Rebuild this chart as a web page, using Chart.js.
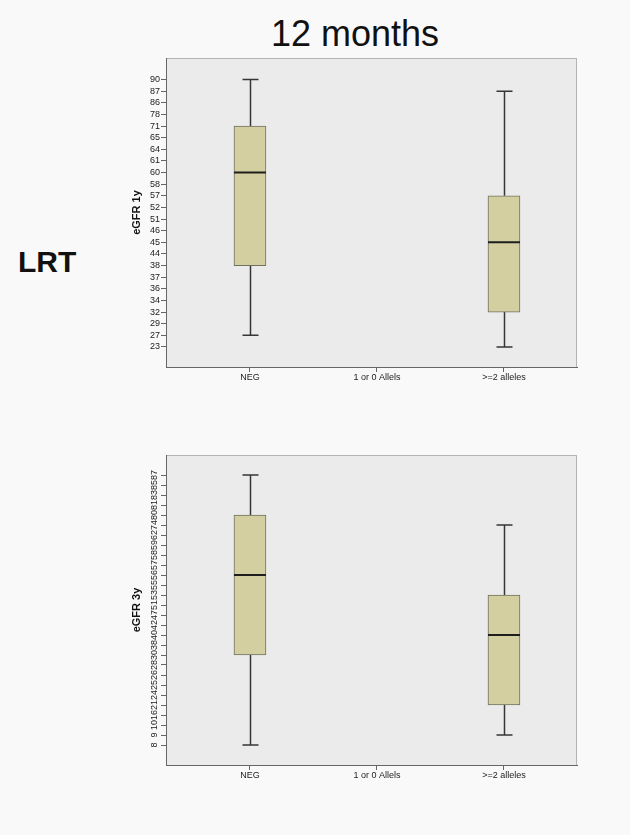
<!DOCTYPE html>
<html>
<head>
<meta charset="utf-8">
<script src="https://cdn.jsdelivr.net/npm/chart.js@4/dist/chart.umd.min.js"></script>
<style>
  html, body { margin: 0; padding: 0; background: #f9f9f9; }
  body { width: 630px; height: 835px; position: relative; overflow: hidden; font-family: "Liberation Sans", Arial, sans-serif; }
  #title { position: absolute; left: 0; width: 710px; top: 16px; text-align: center; font-size: 36px; line-height: 36px; color: #111; }
  #row { position: absolute; left: 18px; top: 247px; font-size: 30px; line-height: 30px; font-weight: bold; color: #111; }
  canvas { position: absolute; }
  #c1 { left: 110px; top: 50px; }
  #c2 { left: 110px; top: 445px; }
</style>
</head>
<body>
<div id="title">12 months</div>
<div id="row">LRT</div>
<canvas id="c1" width="490" height="340" style="width:490px;height:340px"></canvas>
<canvas id="c2" width="490" height="345" style="width:490px;height:345px"></canvas>
<script>
// Groups on the horizontal axis
const categories = ['NEG', '1 or 0 Allels', '>=2 alleles'];

// eGFR after 1 year: ordinal axis values (top to bottom) and box statistics
const eGFR1yTicks = [90, 87, 86, 78, 71, 65, 64, 61, 60, 58, 57, 52, 51, 46, 45, 44, 38, 37, 36, 34, 32, 29, 27, 23];
const eGFR1yMin    = [27, null, 23];
const eGFR1yQ1     = [38, null, 32];
const eGFR1yMedian = [60, null, 45];
const eGFR1yQ3     = [71, null, 57];
const eGFR1yMax    = [90, null, 87];

// eGFR after 3 years
const eGFR3yTicks = [87, 85, 83, 81, 80, 74, 62, 59, 58, 57, 56, 55, 53, 51, 47, 42, 40, 38, 30, 28, 26, 25, 24, 21, 16, 10, 9, 8];
const eGFR3yMin    = [8, null, 9];
const eGFR3yQ1     = [30, null, 21];
const eGFR3yMedian = [56, null, 40];
const eGFR3yQ3     = [80, null, 53];
const eGFR3yMax    = [87, null, 74];

const FONT = "'Liberation Sans', Arial, sans-serif";

// Position of a value on the ordinal axis (index into its tick list)
function rank(ticks, v) { return v == null ? null : ticks.indexOf(v); }

// Plot background, whiskers and medians
const boxPlot = {
  id: 'boxPlot',
  beforeDraw(chart) {
    const a = chart.chartArea, ctx = chart.ctx;
    ctx.save();
    ctx.fillStyle = '#ebebeb';
    ctx.fillRect(a.left, a.top, a.right - a.left, a.bottom - a.top);
    ctx.strokeStyle = '#b4b4b4';
    ctx.lineWidth = 1;
    ctx.strokeRect(a.left + 0.5, a.top + 0.5, a.right - a.left - 1, a.bottom - a.top);
    ctx.restore();
  },
  beforeDatasetsDraw(chart, args, opts) {
    const ctx = chart.ctx, xs = chart.scales.x, ys = chart.scales.y;
    ctx.save();
    ctx.strokeStyle = '#363636';
    ctx.lineWidth = 1.5;
    opts.min.forEach((mn, i) => {
      if (mn == null) return;
      const x = Math.round(xs.getPixelForValue(i)) + 0.5;
      const yMin = ys.getPixelForValue(mn), yMax = ys.getPixelForValue(opts.max[i]);
      const yQ1 = ys.getPixelForValue(opts.q1[i]), yQ3 = ys.getPixelForValue(opts.q3[i]);
      ctx.beginPath();
      ctx.moveTo(x, yMax); ctx.lineTo(x, yQ3);
      ctx.moveTo(x, yQ1); ctx.lineTo(x, yMin);
      ctx.moveTo(x - 8, yMax); ctx.lineTo(x + 8, yMax);
      ctx.moveTo(x - 8, yMin); ctx.lineTo(x + 8, yMin);
      ctx.stroke();
    });
    ctx.restore();
  },
  afterDatasetsDraw(chart, args, opts) {
    const ctx = chart.ctx, xs = chart.scales.x, ys = chart.scales.y;
    ctx.save();
    ctx.strokeStyle = '#1e1e1e';
    ctx.lineWidth = 2;
    opts.median.forEach((m, i) => {
      if (m == null) return;
      const x = xs.getPixelForValue(i);
      const y = ys.getPixelForValue(m);
      ctx.beginPath();
      ctx.moveTo(x - 16, y); ctx.lineTo(x + 16, y);
      ctx.stroke();
    });
    ctx.restore();
  }
};

function makeChart(id, ticks, stats, title, yMin, yMax, padTop, xHeight) {
  const pos = arr => arr.map(v => rank(ticks, v));
  const q1 = pos(stats.q1), q3 = pos(stats.q3);
  const boxes = categories.map((c, i) => q1[i] == null ? null : { x: i, y: [q1[i], q3[i]] }).filter(Boolean);
  const rotated = stats.rotate;
  return new Chart(document.getElementById(id), {
    type: 'bar',
    data: {
      datasets: [{
        data: boxes,
        backgroundColor: '#d3cfa0',
        borderColor: '#707062',
        borderWidth: 1,
        borderSkipped: false,
        barThickness: 32
      }]
    },
    options: {
      responsive: false,
      animation: false,
      devicePixelRatio: 1,
      layout: { padding: { top: padTop, right: 23, left: 0, bottom: 0 } },
      plugins: {
        legend: { display: false },
        tooltip: { enabled: false },
        boxPlot: { min: pos(stats.min), q1, median: pos(stats.median), q3, max: pos(stats.max) }
      },
      scales: {
        x: {
          type: 'linear',
          offset: false,
          min: -0.661, max: 2.575,
          afterBuildTicks: s => { s.ticks = categories.map((c, i) => ({ value: i })); },
          afterFit: s => { s.height = xHeight; },
          ticks: {
            callback: v => categories[v],
            font: { family: FONT, size: 9 },
            color: '#222',
            padding: 0,
            maxRotation: 0,
            autoSkip: false
          },
          grid: { offset: false, drawOnChartArea: false, drawTicks: true, tickLength: 5, color: '#666' },
          border: { display: true, color: '#666', width: 1 }
        },
        y: {
          type: 'linear',
          reverse: true,
          min: yMin, max: yMax,
          afterBuildTicks: s => { s.ticks = ticks.map((t, i) => ({ value: i })); },
          afterFit: s => { s.width = 56; },
          ticks: {
            callback: v => String(ticks[v]),
            font: { family: FONT, size: 9 },
            color: '#222',
            padding: 1,
            autoSkip: false,
            minRotation: rotated ? 90 : 0,
            maxRotation: rotated ? 90 : 0,
            crossAlign: rotated ? 'center' : 'near'
          },
          grid: { drawOnChartArea: false, drawTicks: true, tickLength: 5, color: '#666' },
          border: { display: true, color: '#666', width: 1 },
          title: {
            display: true,
            text: title,
            font: { family: FONT, size: 11, weight: 'bold' },
            color: '#111',
            padding: { top: 20, bottom: 0 }
          }
        }
      }
    },
    plugins: [boxPlot]
  });
}

makeChart('c1', eGFR1yTicks,
  { min: eGFR1yMin, q1: eGFR1yQ1, median: eGFR1yMedian, q3: eGFR1yQ3, max: eGFR1yMax, rotate: false },
  'eGFR 1y', -1.85, 24.72, 8, 23);

makeChart('c2', eGFR3yTicks,
  { min: eGFR3yMin, q1: eGFR3yQ1, median: eGFR3yMedian, q3: eGFR3yQ3, max: eGFR3yMax, rotate: true },
  'eGFR 3y', -2.0, 29.0, 10, 25);
</script>
</body>
</html>
